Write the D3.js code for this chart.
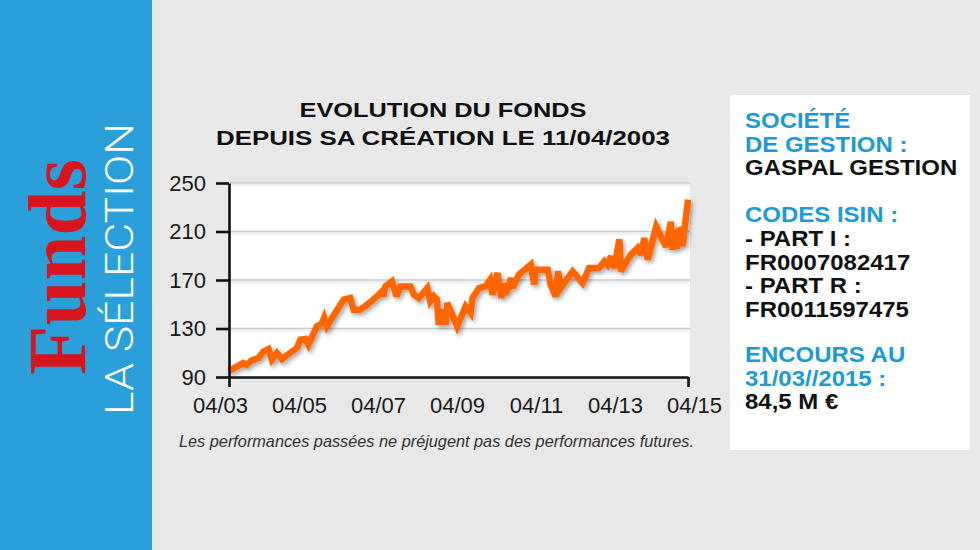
<!DOCTYPE html>
<html><head><meta charset="utf-8">
<script src="https://cdn.jsdelivr.net/npm/d3@7"></script>
<style>
html,body{margin:0;padding:0;background:#e8e8e8;}
svg{display:block;}
</style></head><body>
<svg id="c" width="980" height="550"></svg>
<script>
// ---- data ----
const years = [2003.28,2003.65,2003.74,2003.87,2004.05,2004.18,2004.31,2004.40,2004.53,2004.66,2004.87,2005.05,2005.14,2005.27,2005.35,2005.57,2005.70,2005.76,2005.83,2006.05,2006.27,2006.44,2006.53,2006.70,2006.88,2007.14,2007.27,2007.30,2007.36,2007.53,2007.65,2007.75,2008.01,2008.10,2008.23,2008.45,2008.53,2008.62,2008.70,2008.75,2008.84,2008.93,2008.97,2009.10,2009.23,2009.45,2009.58,2009.63,2009.80,2009.97,2010.09,2010.15,2010.28,2010.38,2010.45,2010.50,2010.63,2010.67,2010.84,2011.15,2011.24,2011.28,2011.59,2011.67,2011.80,2011.86,2011.93,2012.24,2012.50,2012.67,2012.93,2013.07,2013.15,2013.24,2013.33,2013.46,2013.50,2013.76,2013.94,2014.03,2014.11,2014.20,2014.29,2014.42,2014.59,2014.68,2014.80,2014.85,2014.90,2014.96,2015.02,2015.07,2015.11,2015.25];
const values = [95,101.5,100,103.7,105.7,111,113,104.3,109.8,104.8,109.8,113.9,120.8,121.3,116.6,131.7,134,138.7,131.7,142.8,153.8,155,145.5,145.5,149.6,156.5,160.6,156.5,164.7,168.8,156.5,164.7,164.7,157.9,155.1,163.4,152.4,156.5,154,133.1,145.5,133.1,151,141.4,131.7,148.2,142.8,155.1,163.4,164.7,170.2,157.9,175.8,155.1,167.5,157.9,171.6,163.4,174.4,182.6,166.1,178.5,178.5,166.1,156.5,177.1,163.4,177.1,167.5,179.9,179.9,185.4,182.6,189.5,179.9,203.5,177.1,190.9,196.4,190.9,204.6,186.7,197.7,214,203,197.5,218,195,211.5,196,211,211.5,198,236.2];
const yTicks = [90,130,170,210,250];
const xLabels = ["04/03","04/05","04/07","04/09","04/11","04/13","04/15"];
const titleLines = ["EVOLUTION DU FONDS","DEPUIS SA CRÉATION LE 11/04/2003"];
const footnote = "Les performances passées ne préjugent pas des performances futures.";
const brandMain = "Funds";
const brandSub = "LA SÉLECTION";
const infoText = ["SOCIÉTÉ","DE GESTION :","GASPAL GESTION","CODES ISIN :","- PART I :","FR0007082417","- PART R :","FR0011597475","ENCOURS AU","31/03//2015 :","84,5 M €"];
const infoIsLabel = [true,true,false,true,false,false,false,false,true,true,false];

// ---- drawing ----
const svg = d3.select("#c");
const defs = svg.append("defs");
const f = defs.append("filter").attr("id","sh").attr("x","-10%").attr("y","-10%").attr("width","130%").attr("height","130%");
f.append("feDropShadow").attr("dx",2).attr("dy",2.5).attr("stdDeviation",2).attr("flood-color","#000").attr("flood-opacity",0.35);
const g2 = defs.append("filter").attr("id","gsh").attr("x","-5%").attr("y","-200%").attr("width","110%").attr("height","500%");
g2.append("feDropShadow").attr("dx",0).attr("dy",1.5).attr("stdDeviation",1).attr("flood-color","#000").attr("flood-opacity",0.15);

svg.append("rect").attr("width",980).attr("height",550).attr("fill","#e8e8e8");
svg.append("rect").attr("x",0).attr("y",0).attr("width",152).attr("height",550).attr("fill","#2a9fd9");

svg.append("text").attr("transform","translate(85,375) rotate(-90)")
  .attr("font-family","'Liberation Serif','DejaVu Serif',serif").attr("font-weight","bold")
  .attr("font-size",82).attr("fill","#d8141c").attr("textLength",216).attr("lengthAdjust","spacingAndGlyphs")
  .text(brandMain);
svg.append("text").attr("transform","translate(133,415) rotate(-90)")
  .attr("font-family","Roboto, 'Liberation Sans', sans-serif").attr("font-weight",300)
  .attr("font-size",39).attr("fill","#ffffff").attr("textLength",292).attr("lengthAdjust","spacingAndGlyphs")
  .text(brandSub);

// title
const titleW = [287, 454];
svg.selectAll("text.title").data(titleLines).enter().append("text").attr("class","title")
  .attr("x",443).attr("y",(d,i)=>117+i*28).attr("text-anchor","middle")
  .attr("font-family","'Liberation Sans', Arial, sans-serif").attr("font-weight","bold").attr("font-size",21)
  .attr("fill","#111").attr("textLength",(d,i)=>titleW[i]).attr("lengthAdjust","spacingAndGlyphs")
  .text(d=>d);

// scales
const x = d3.scaleLinear().domain([years[0], years[years.length-1]]).range([229, 688]);
const y = d3.scaleLinear().domain([90, 250]).range([377, 183]);
const xl = d3.scalePoint().domain(xLabels).range([220, 694]);

// plot background
svg.append("rect").attr("x",229).attr("y",y(250)).attr("width",461).attr("height",y(90)-y(250)).attr("fill","#ffffff");

// gridlines
svg.append("g").attr("filter","url(#gsh)").selectAll("line").data(yTicks.filter(v=>v>90)).enter().append("line")
  .attr("x1",229).attr("x2",690).attr("y1",d=>y(d)).attr("y2",d=>y(d))
  .attr("stroke","#c8c8c8").attr("stroke-width",1.5);

// line
const line = d3.line().x((d,i)=>x(years[i])).y(d=>y(d));
svg.append("path").datum(values).attr("d",line).attr("fill","none")
  .attr("stroke","#ff6600").attr("stroke-width",6.5).attr("stroke-linejoin","miter").attr("stroke-miterlimit",3)
  .attr("filter","url(#sh)");

// y axis
const yAxis = svg.append("g").attr("transform","translate(229,0)")
  .call(d3.axisLeft(y).tickValues(yTicks).tickSize(13).tickSizeOuter(0).tickPadding(10));
yAxis.select(".domain").attr("stroke","#111").attr("stroke-width",2.6);
yAxis.selectAll(".tick line").attr("stroke","#111").attr("stroke-width",2.6);
yAxis.selectAll("text").attr("font-family","'Liberation Sans', Arial, sans-serif").attr("font-size",22).attr("fill","#1a1a1a");

// x axis (end ticks)
const xAxis = svg.append("g").attr("transform","translate(0,377)")
  .call(d3.axisBottom(x).tickValues([years[0], years[years.length-1]]).tickSize(10).tickSizeOuter(0).tickFormat(""));
xAxis.select(".domain").attr("stroke","#111").attr("stroke-width",2.6);
xAxis.selectAll(".tick line").attr("stroke","#111").attr("stroke-width",2.6);

// x labels
const xLab = svg.append("g").attr("transform","translate(0,377)")
  .call(d3.axisBottom(xl).tickSize(0).tickPadding(20));
xLab.select(".domain").remove();
xLab.selectAll("text").attr("font-family","'Liberation Sans', Arial, sans-serif").attr("font-size",22).attr("fill","#1a1a1a");

// footnote
svg.append("text").attr("x",179).attr("y",447)
  .attr("font-family","'Liberation Sans', Arial, sans-serif").attr("font-style","italic").attr("font-size",17)
  .attr("fill","#333").attr("textLength",515).attr("lengthAdjust","spacingAndGlyphs").text(footnote);

// info box
svg.append("rect").attr("x",730).attr("y",95).attr("width",240).attr("height",355).attr("fill","#ffffff");
const infoY = [128,152,175,222,246,270,293,317,362,386,409];
svg.append("g").attr("transform","translate(745,0) scale(1.09,1)").selectAll("text").data(infoText).enter().append("text")
  .attr("x",0).attr("y",(d,i)=>infoY[i])
  .attr("font-family","'Liberation Sans', Arial, sans-serif").attr("font-weight","bold").attr("font-size",22)
  .attr("fill",(d,i)=>infoIsLabel[i] ? "#1b9ad6" : "#111")
  .text(d=>d);
</script>
</body></html>
